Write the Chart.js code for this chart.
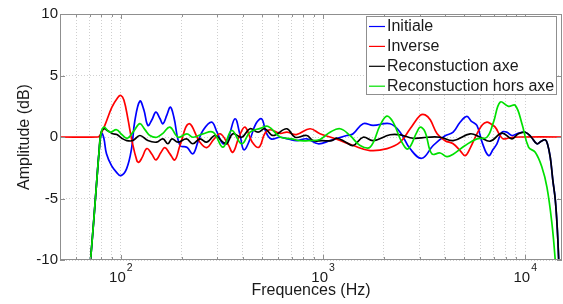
<!DOCTYPE html>
<html><head><meta charset="utf-8">
<script src="https://cdn.jsdelivr.net/npm/chart.js@4/dist/chart.umd.min.js"></script>
<style>html,body{margin:0;padding:0;background:#fff;overflow:hidden}</style>
</head><body>
<canvas id="c" width="563" height="304"></canvas>
<script>
// ---------- data ----------
const seriesNames = ['Initiale', 'Inverse', 'Reconstuction axe', 'Reconstuction hors axe'];
const xTickValues = [50,60,70,80,90,100,200,300,400,500,600,700,800,900,1000,2000,3000,4000,5000,6000,7000,8000,9000,10000];
const xLabelValues = [100, 1000, 10000];
const yTickValues = [-10, -5, 0, 5, 10];

const initialeFreq = [68,70.8,73.5,76,78.1,80.3,82.4,84.9,89.9,95.2,100,106.7,112.9,117.3,124.2,130,136,142.4,149,156,161.4,169,175.8,182.9,196,212,227,240.6,254.6,281,299,320,339,367,388,406,435,466,497,522,553,613,669,741,831,945,1083,1310,1408,1578,1768,2146,2406,2696,3081,3504,4015,4401,4760,5146,5400,5767,6140,6582,6940,7242,7668,8100,8596,9220,10000,10700,11426,12000,12563,12900,13300,13690,14080,14410,14650,15000];
const initialeDb = [-13.5,-10,-6.7,-3.55,-1.1,0.3,-0.1,-1.37,-2.33,-2.87,-3.14,-2.59,-0.96,1.34,2.92,2.2,0.94,1.4,2.02,1.5,1.08,1.8,2.43,1.6,-0.69,-0.83,-1.37,-0.4,0.53,1.21,0.4,-0.55,-0.1,1.48,0.2,-1.04,-0.2,1.1,1.48,0.4,-0.15,-0.02,-0.15,-0.29,-0.15,-0.55,-0.29,0.12,0.26,1.08,0.94,1.08,0.39,-0.96,-1.73,-0.69,0.1,0.39,1.2,1.67,1.3,0.94,-0.5,-1.51,-1.0,-0.55,0.39,0.4,0.12,0.3,0.39,0.0,-0.55,-0.35,-0.23,-0.6,-1.65,-3.5,-5.1,-7.5,-10.1,-14];

const inverseFreq = [50,76.9,78.7,83.3,90.2,96.6,100,103.5,108.3,113.4,120,122.8,127.1,134.5,142.4,149,157.8,165,174.8,185,196,217,246,266,288,310,339,358,384,411,446,482,516,547,613,663,738,862,966,1083,1214,1408,1709,2074,2406,2696,3022,3199,3390,3667,4015,4401,4760,5047,5343,5767,6140,6463,6710,7103,7520,7783,8200,8724,9500,15200];
const inverseDb = [0,0,0.1,0.94,2.4,3.22,3.38,3.0,1.5,-0.29,-1.92,-2.05,-1.7,-0.94,-1.4,-1.86,-1.26,-0.86,-1.37,-1.86,-0.69,1.08,-0.42,-0.86,-0.2,0.26,-0.6,-1.24,0.0,0.8,-0.4,-0.83,0.3,0.59,0.3,0.39,0.2,0.67,0.26,0.0,-0.29,-0.69,-1.10,-0.94,-0.42,0.67,1.75,1.8,1.4,0.26,-0.3,-0.55,-1.1,-1.51,-0.9,0.26,1.0,1.21,1.1,0.8,0.1,-0.15,-0.1,-0.02,0,0];

const axeFreq = [68,70.8,73.5,76,78.1,79.6,82.4,86.2,91.3,95.5,101,107,114.7,124.2,136,150,161.4,170.9,179,191.5,211,227,246,266,292,320,334,358,396,435,477,516,566,661,727,831,892,990,1104,1169,1290,1408,1578,1768,2146,2406,2790,3273,3795,4401,5343,5986,6710,7668,8596,9220,10000,10700,11426,12000,12563,12900,13300,13690,14080,14410,14650,15000];
const axeDb = [-13.5,-10,-6.7,-3.55,-1.1,0.3,0.67,0.5,0.26,0.2,-0.1,-0.29,-0.29,0.12,-0.29,-0.42,-0.15,-0.55,-0.15,-0.42,-0.15,-0.55,-0.15,-0.42,0.12,-0.42,-0.55,0.26,-0.02,0.67,0.39,0.67,0.12,0.67,-0.02,0.12,-0.29,-0.3,-0.29,-0.1,-0.4,-0.69,-0.02,-0.29,0.18,0.18,-0.10,-0.02,-0.02,-0.29,0.26,-0.02,-0.34,0.31,-0.15,0.25,0.39,0.0,-0.55,-0.35,-0.23,-0.6,-1.65,-3.5,-5.1,-7.5,-10.1,-14];

const horsAxeFreq = [68,70.8,73.5,76,78.1,79.6,82.4,88.2,95.2,101,107.7,116,124.2,131.5,139.2,150.7,161.4,174.8,192,212,228,254.6,286,320,353,396,435,489,536,613,700,770,862,966,1083,1214,1360,1525,1709,1915,2067,2221,2453,2635,2911,3022,3199,3452,3795,4100,4401,5047,5767,6463,6966,7520,8268,8925,9632,10383,11207,12095,12809,13560,14080,14500];
const horsAxeDb = [-13.5,-10,-6.7,-3.55,-1.1,0.2,0.8,0.39,0.59,0.2,-0.1,0.5,1.08,0.6,0.12,-0.02,0.3,0.8,-0.02,0.26,-0.02,0.26,0.39,-0.83,0.53,-0.55,0.39,0.7,0.86,0.0,-0.15,-0.3,-0.29,-0.2,0.39,0.67,0.12,-0.69,-0.83,0.94,1.70,1.21,-0.42,-0.96,0.39,0.80,0.39,-1.37,-1.3,-1.6,-1.4,-0.69,-0.15,-0.02,1.21,2.84,2.49,2.57,1.08,-0.83,-1.24,-2.46,-4.09,-7.07,-10.06,-13];

// ---------- style ----------
const seriesColors = ['#0000ff', '#ff0000', '#000000', '#00e000'];
const FONT = '"Liberation Sans", Arial, Helvetica, sans-serif';
const TEXT = '#1a1a1a';
const FRAME = '#8f8f8f';
const GRID = '#cfcfcf';
Chart.defaults.font.family = FONT;
Chart.defaults.color = TEXT;

function pts(f, d) { return f.map((x, i) => ({x: x, y: d[i]})); }

const decor = {
  id: 'decor',
  afterDatasetsDraw(chart) {
    const {ctx, chartArea: a, scales: {x, y}} = chart;
    ctx.save();
    ctx.strokeStyle = FRAME; ctx.lineWidth = 1;
    ctx.beginPath();
    xTickValues.forEach(v => {
      const px = Math.round(x.getPixelForValue(v)) + 0.5;
      const len = xLabelValues.includes(v) ? 5 : 3;
      ctx.moveTo(px, a.bottom); ctx.lineTo(px, a.bottom - len);
      ctx.moveTo(px, a.top); ctx.lineTo(px, a.top + len);
    });
    yTickValues.forEach(v => {
      const py = Math.round(y.getPixelForValue(v)) + 0.5;
      ctx.moveTo(a.left, py); ctx.lineTo(a.left + 5, py);
      ctx.moveTo(a.right, py); ctx.lineTo(a.right - 5, py);
    });
    ctx.stroke();
    ctx.strokeRect(a.left + 0.5, a.top + 0.5, a.right - a.left - 1, a.bottom - a.top - 1);

    xLabelValues.forEach(v => {
      const px = x.getPixelForValue(v);
      const exp = String(Math.round(Math.log10(v)));
      ctx.font = '15px ' + FONT;
      const bw = ctx.measureText('10').width;
      ctx.font = '10.5px ' + FONT;
      const ew = ctx.measureText(exp).width;
      const x0 = px - (bw + ew + 1) / 2;
      ctx.fillStyle = TEXT;
      ctx.textBaseline = 'alphabetic'; ctx.textAlign = 'left';
      ctx.font = '15px ' + FONT;
      ctx.fillText('10', x0, a.bottom + 21.5);
      ctx.font = '10.5px ' + FONT;
      ctx.fillText(exp, x0 + bw + 1, a.bottom + 11);
    });

    const lx = 366, ly = 16, lw = 191, lh = 79;
    ctx.fillStyle = '#ffffff';
    ctx.fillRect(lx, ly, lw, lh);
    ctx.strokeStyle = FRAME;
    ctx.strokeRect(lx + 0.5, ly + 0.5, lw - 1, lh - 1);
    ctx.font = '16px ' + FONT;
    ctx.textBaseline = 'middle'; ctx.textAlign = 'left';
    seriesNames.forEach((name, i) => {
      const cy = ly + 10.5 + i * 19.9;
      ctx.strokeStyle = seriesColors[i];
      ctx.lineWidth = 1.2;
      ctx.beginPath(); ctx.moveTo(lx + 3, cy); ctx.lineTo(lx + 19, cy); ctx.stroke();
      ctx.fillStyle = TEXT;
      ctx.fillText(name, lx + 21, cy + 0.5);
    });
    ctx.restore();
  }
};

const freqArrays = [initialeFreq, inverseFreq, axeFreq, horsAxeFreq];
const dbArrays = [initialeDb, inverseDb, axeDb, horsAxeDb];
const drawOrder = [4, 3, 2, 1];

new Chart(document.getElementById('c'), {
  type: 'line',
  data: {
    datasets: seriesNames.map((n, i) => ({
      label: n,
      data: pts(freqArrays[i], dbArrays[i]),
      borderColor: seriesColors[i],
      backgroundColor: seriesColors[i],
      borderWidth: 1.7,
      pointRadius: 0,
      tension: 0.4,
      fill: false,
      order: drawOrder[i]
    }))
  },
  options: {
    responsive: false,
    animation: false,
    devicePixelRatio: 1,
    layout: {padding: {left: 0, right: 1, top: 14, bottom: 0}},
    plugins: {legend: {display: false}, tooltip: {enabled: false}},
    scales: {
      x: {
        type: 'logarithmic', min: 50, max: 15200,
        afterBuildTicks: s => { s.ticks = xTickValues.map(v => ({value: v})); },
        afterFit: s => { s.height = 44; },
        ticks: {display: false},
        grid: {color: GRID, drawTicks: false, lineWidth: 1},
        border: {display: false, dash: [1, 2]},
        title: {display: true, text: 'Frequences (Hz)', color: TEXT,
                font: {family: FONT, size: 16}, padding: {top: 0, bottom: 3.4}}
      },
      y: {
        type: 'linear', min: -10, max: 10,
        afterBuildTicks: s => { s.ticks = yTickValues.map(v => ({value: v})); },
        afterFit: s => { s.width = 60; },
        ticks: {font: {family: FONT, size: 15}, color: TEXT, padding: 2,
                callback: v => String(v)},
        grid: {color: GRID, drawTicks: false, lineWidth: 1},
        border: {display: false, dash: [1, 2]},
        title: {display: true, text: 'Amplitude (dB)', color: TEXT,
                font: {family: FONT, size: 16}, padding: {top: 14.8, bottom: 0}}
      }
    }
  },
  plugins: [decor]
});
</script>
</body></html>
